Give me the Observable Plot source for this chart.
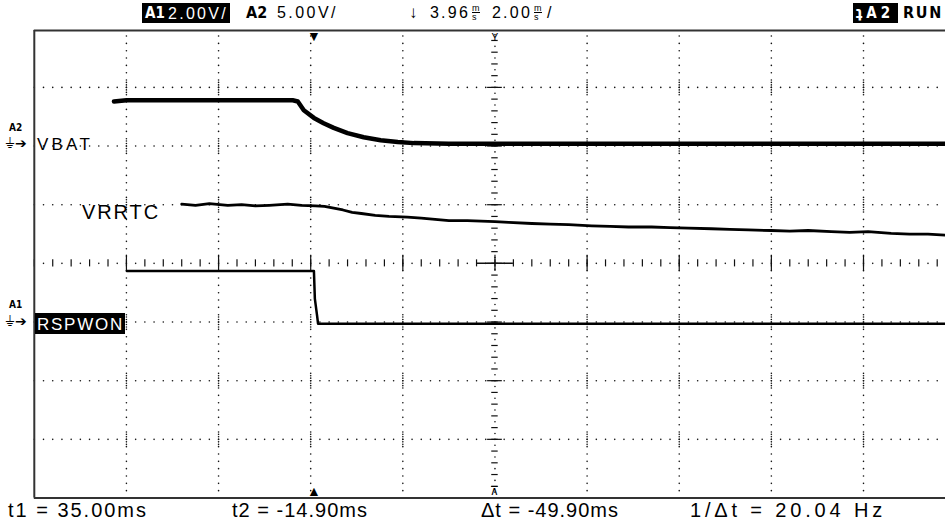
<!DOCTYPE html>
<html><head><meta charset="utf-8">
<script src="https://cdn.jsdelivr.net/npm/d3@7"></script>
<script src="https://cdn.jsdelivr.net/npm/@observablehq/plot@0.6"></script>
<style>
body{margin:0;background:#fff;width:945px;height:521px;overflow:hidden;position:relative;font-family:"Liberation Sans",Arial,sans-serif;color:#000;}
#chart{position:absolute;left:0;top:24px;}
.t{position:absolute;white-space:nowrap;line-height:1;}
.box{position:absolute;background:#000;color:#fff;}
.cond{font-family:"DejaVu Sans Condensed","DejaVu Sans",sans-serif;font-weight:bold;}
.ms{display:inline-flex;flex-direction:column;font-size:9px;line-height:8px;vertical-align:top;}
.ms span:last-child{border-top:1px solid #000;}
</style></head><body>
<div id="chart"></div>

<!-- header -->
<div class="box" style="left:142px;top:3px;width:88px;height:20px;">
  <span class="t cond" style="left:3px;top:3px;font-size:15px;">A1</span>
  <span class="t fit" data-w="60" style="left:26px;top:3px;font-size:16px;">2.00V/</span>
</div>
<span class="t cond" style="left:246px;top:5px;font-size:16px;">A2</span>
<span class="t fit" data-w="61" style="left:277px;top:5px;font-size:16px;">5.00V/</span>
<span class="t" style="left:409px;top:4px;font-size:17px;">↓</span>
<span class="t fit" data-w="40" style="left:430px;top:5px;font-size:16px;">3.96</span>
<span class="t ms" style="left:472px;top:4px;"><span>m</span><span>s</span></span>
<span class="t fit" data-w="40" style="left:492px;top:5px;font-size:16px;">2.00</span>
<span class="t ms" style="left:534px;top:4px;"><span>m</span><span>s</span></span>
<span class="t" style="left:547px;top:5px;font-size:16px;">/</span>
<div class="box" style="left:853px;top:3px;width:45px;height:20px;">
  <span class="t cond fit" data-w="38" style="left:3px;top:3px;font-size:15px;">ʇA2</span>
</div>
<span class="t cond fit" data-w="40" style="left:903px;top:5px;font-size:16px;">RUN</span>

<!-- channel labels -->
<span class="t cond" style="left:9px;top:123px;font-size:10px;">A2</span>
<span class="t" style="left:5px;top:136px;font-size:14px;font-family:'DejaVu Sans';">⏚➔</span>
<span class="t fit" data-w="56" style="left:37px;top:136px;font-size:17px;">VBAT</span>
<span class="t cond" style="left:9px;top:300px;font-size:10px;">A1</span>
<span class="t" style="left:5px;top:314px;font-size:14px;font-family:'DejaVu Sans';">⏚➔</span>
<div class="box" style="left:35px;top:313px;width:90px;height:21px;">
  <span class="t fit" data-w="87" style="left:2px;top:3px;font-size:17px;">RSPWON</span>
</div>
<span class="t fit" data-w="78" style="left:82px;top:202px;font-size:20px;">VRRTC</span>

<!-- footer -->
<span class="t fit" data-w="140" style="left:8px;top:500px;font-size:20px;">t1 = 35.00ms</span>
<span class="t fit" data-w="136" style="left:232px;top:500px;font-size:20px;">t2 = -14.90ms</span>
<span class="t fit" data-w="138" style="left:481px;top:500px;font-size:20px;">Δt = -49.90ms</span>
<span class="t fit" data-w="196" style="left:690px;top:500px;font-size:20px;">1/Δt = 20.04 Hz</span>

<script>
// ---- scope screen: time in ms (2.00 ms/div), vertical position in divisions ----
const timeTicks = [-8, -6, -4, -2, 0, 2, 4, 6, 8];
const divTicks = [-3, -2, -1, 0, 1, 2, 3];
const xDomain = [-10, 9.78];
const yDomain = [-4, 3.97];

// channel A2 : VBAT (trace position in divisions)
const vbatT = [-8.27, -8.0, -4.39, -4.28, -4.15, -3.93, -3.72, -3.50, -3.20, -2.85, -2.48, -2.11, -1.76, -1.0, 9.78];
const vbatY = [2.76, 2.78, 2.78, 2.76, 2.61, 2.48, 2.39, 2.31, 2.22, 2.15, 2.10, 2.07, 2.05, 2.04, 2.04];

// VRRTC trace
const vrrtcT = [-6.8,-6.5,-6.2,-5.8,-5.5,-5.2,-4.9,-4.5,-4.2,-3.9,-3.7,-3.5,-3.3,-3.1,-2.9,-2.6,-2.3,-1.9,-1.6,-1.3,-1.0,-0.6,-0.3,0.0,0.3,0.8,1.2,1.6,2.1,2.5,2.9,3.4,3.8,4.2,4.7,5.1,5.5,6.0,6.4,6.8,7.3,7.7,8.1,8.6,9.0,9.4,9.78];
const vrrtcY = [1.01,0.99,1.02,0.99,1.00,0.98,0.99,1.01,0.99,0.98,0.97,0.94,0.91,0.87,0.85,0.82,0.80,0.79,0.77,0.75,0.73,0.73,0.72,0.71,0.70,0.68,0.67,0.66,0.64,0.63,0.62,0.62,0.61,0.60,0.59,0.58,0.57,0.56,0.55,0.56,0.54,0.53,0.54,0.51,0.50,0.50,0.48];

// channel A1 : RSPWON
const rspT = [-7.99, -3.93, -3.91, -3.86, -3.84, 9.78];
const rspY = [-0.13, -0.13, -0.60, -0.90, -1.03, -1.03];

// cursors / markers (ms)
const cursorT = [-3.93];
const triggerT = [0];

const zip = (ts, ys) => ts.map((t, i) => ({t, v: ys[i]}));
const vbat = zip(vbatT, vbatY);
const vrrtc = zip(vrrtcT, vrrtcY);
const rsp = zip(rspT, rspY);

// graticule
const xFine = d3.range(-10, 9.79, 0.2);
const yFine = d3.range(-4, 3.97, 0.125);
const gridH = divTicks.filter(d => d !== 0).flatMap(y => xFine.map(x => ({x, y})));
const gridV = timeTicks.filter(d => d !== 0).flatMap(x => yFine.map(y => ({x, y})));
const cross = timeTicks.filter(d => d !== 0).flatMap(x =>
  divTicks.filter(d => d !== 0).flatMap(y => [-0.085, -0.043, 0.043, 0.085].map(o => ({x, y: y + o}))));
const cTicksX = d3.range(-10, 9.79, 0.4);
const cDotsX = cTicksX.map(x => x + 0.2);
const cTicksY = d3.range(-4, 3.97, 0.2);
const cDotsY = cTicksY.map(y => y + 0.1);

const dotStyle = {r: 0.8, fill: "#111"};
const chart = Plot.plot({
  width: 945, height: 478,
  marginLeft: 33.8, marginRight: 0, marginTop: 6, marginBottom: 4.5,
  x: {domain: xDomain, axis: null},
  y: {domain: yDomain, axis: null},
  style: {background: "white", overflow: "visible"},
  marks: [
    Plot.dot(gridH, {x: "x", y: "y", ...dotStyle}),
    Plot.dot(gridV, {x: "x", y: "y", ...dotStyle}),
    Plot.dot(cross, {x: "x", y: "y", ...dotStyle}),
    Plot.dot(cDotsX, {x: d => d, y: 0, ...dotStyle}),
    Plot.dot(cDotsY, {x: 0, y: d => d, ...dotStyle}),
    Plot.ruleX(cTicksX, {x: d => d, y1: -0.06, y2: 0.06, stroke: "#111", strokeWidth: 1.2}),
    Plot.ruleY(cTicksY, {y: d => d, x1: -0.07, x2: 0.07, stroke: "#111", strokeWidth: 1.2}),
    Plot.ruleX(timeTicks, {x: d => d, y1: -0.14, y2: 0.14, stroke: "#111", strokeWidth: 1.2}),
    Plot.ruleY(divTicks, {y: d => d, x1: -0.16, x2: 0.16, stroke: "#111", strokeWidth: 1.2}),
    Plot.ruleY([0], {x1: -0.4, x2: 0.4, stroke: "#111", strokeWidth: 1.5}),
    // frame
    Plot.ruleX([xDomain[0]], {stroke: "#333", strokeWidth: 2}),
    Plot.ruleY([yDomain[0], yDomain[1]], {stroke: "#333", strokeWidth: 2}),
    // traces
    Plot.line(vbat, {x: "t", y: "v", stroke: "#000", strokeWidth: 4.5}),
    Plot.line(vrrtc, {x: "t", y: "v", stroke: "#000", strokeWidth: 2.8}),
    Plot.line(rsp, {x: "t", y: "v", stroke: "#000", strokeWidth: 2.5}),
    // cursor & trigger markers
    Plot.text(cursorT, {x: d => d, y: yDomain[1], text: () => "▼", dy: 6, fontSize: 14, fill: "#000"}),
    Plot.text(cursorT, {x: d => d, y: yDomain[0], text: () => "▲", dy: -6, fontSize: 14, fill: "#000"}),
    Plot.text(triggerT, {x: d => d, y: yDomain[1], text: () => "Y", dy: 7, fontSize: 11, fill: "#000"}),
    Plot.text(triggerT, {x: d => d, y: yDomain[0], text: () => "⊼", dy: -7, fontSize: 12, fill: "#000"})
  ]
});
document.getElementById("chart").append(chart);

// fit text widths to the reference
document.querySelectorAll(".fit").forEach(el => {
  const w = +el.dataset.w;
  const n = el.textContent.length;
  const cur = el.getBoundingClientRect().width;
  el.style.letterSpacing = ((w - cur) / n) + "px";
});
</script>
</body></html>
